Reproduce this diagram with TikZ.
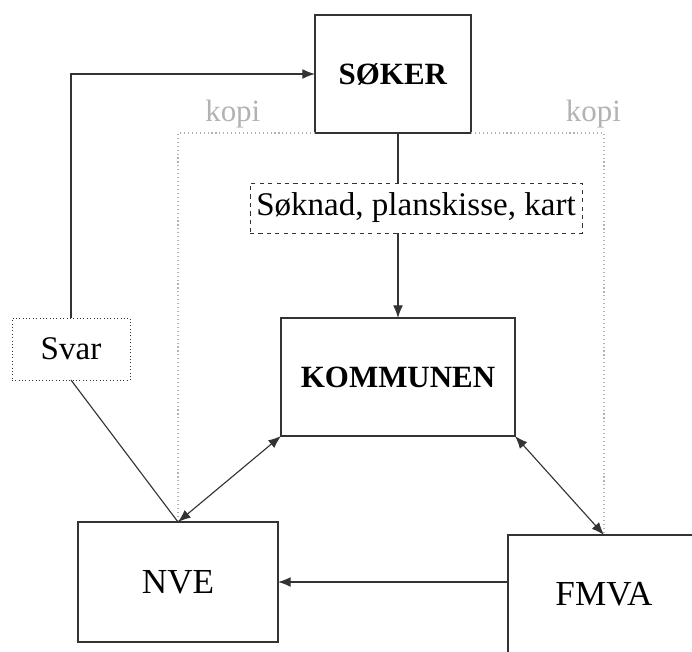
\documentclass[tikz,border=0pt]{standalone}
\usepackage{fontspec}
\setmainfont{Liberation Serif}
\usepackage{xcolor}
\usetikzlibrary{arrows.meta}

\definecolor{linegray}{gray}{0.2}
\definecolor{kopigray}{gray}{0.7}

\begin{document}
\begin{tikzpicture}[x=0.025cm, y=-0.025cm, >={Latex[length=9pt,width=7pt]},
    box/.style={draw=linegray, thick, inner sep=0pt, outer sep=0pt, font=\fontsize{22}{26}\selectfont},
    tag/.style={draw=linegray, fill=white, inner sep=0pt, outer sep=0pt, font=\fontsize{23.5}{28}\selectfont},
    kopiline/.style={kopigray, dotted, thick}]
        \useasboundingbox (0,0) rectangle (692,652);
        % the four parties
        \node[box, minimum width=3.9cm, minimum height=2.95cm] (soker) at (393,74) {\textbf{SØKER}};
        \node[box, minimum width=5.85cm, minimum height=2.95cm] (kommunen) at (398,377) {\textbf{KOMMUNEN}};
        \node[box, minimum width=5cm, minimum height=3cm, font=\fontsize{25}{30}\selectfont] (nve) at (178,582) {NVE};
        \node[box, minimum width=4.8cm, minimum height=2.95cm, font=\fontsize{25}{30}\selectfont] (fmva) at (604,594) {FMVA};
        % labels on the lines
        \node[tag, dashed, minimum width=8.3cm, minimum height=1.25cm] (soknad) at (416,208) {Søknad, planskisse, kart};
        \node[tag, dotted, minimum width=2.95cm, minimum height=1.55cm] (svar) at (71,349) {Svar};
        % copies
        \draw[kopiline] (soker.south west) -| node[pos=0.3, above, text=kopigray, font=\fontsize{22}{26}\selectfont] {kopi} (nve.north);
        \draw[kopiline] (soker.south east) -| node[pos=0.46, above, text=kopigray, font=\fontsize{22}{26}\selectfont] {kopi} (fmva.north);
        % application
        \draw[linegray, thick] (kommunen.north |- soker.south) -- (kommunen.north |- soknad.north);
        \draw[->, linegray, thick] (kommunen.north |- soknad.south) -- (kommunen.north);
        % answer
        \draw[linegray, thick] (nve.north) -- (svar.south);
        \draw[->, linegray, thick] (svar.north) |- (soker.west);
        % consultation
        \draw[<->, linegray, thick] (kommunen.south west) -- (nve.north);
        \draw[<->, linegray, thick] (kommunen.south east) -- (fmva.north);
        \draw[->, linegray, thick] (fmva.west |- nve.east) -- (nve.east);
    \end{tikzpicture}
\end{document}
